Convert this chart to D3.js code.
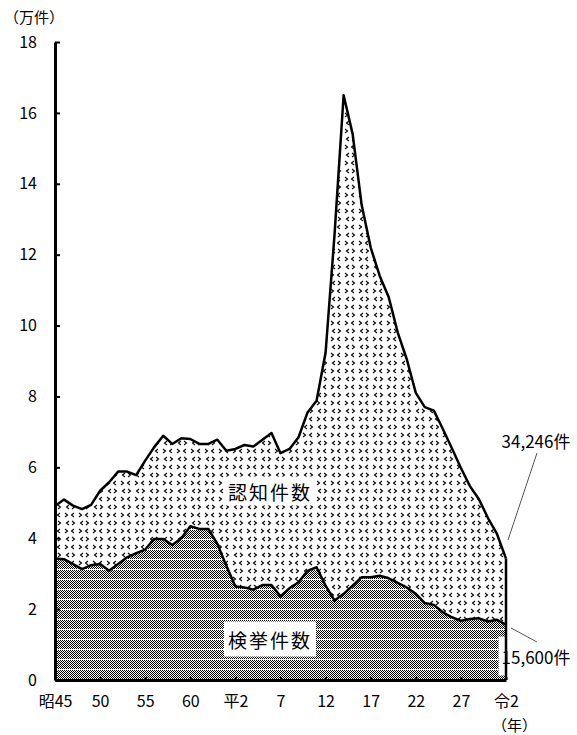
<!DOCTYPE html>
<html><head><meta charset="utf-8">
<script src="https://cdn.jsdelivr.net/npm/d3@7"></script>
<style>
html,body{margin:0;padding:0;background:#fff;}
text{font-family:"Noto Sans CJK JP","Noto Sans",sans-serif;fill:#000;}
</style></head>
<body>
<svg id="c" width="577" height="735"></svg>
<script>
// ---- data (万件) ----
const years = d3.range(1970, 2021);
const recognized = [4.91,5.09,4.92,4.82,4.94,5.34,5.58,5.88,5.88,5.78,
  6.19,6.57,6.89,6.66,6.82,6.80,6.66,6.66,6.78,6.47,
  6.52,6.63,6.59,6.78,6.97,6.40,6.52,6.85,7.55,7.88,
  9.24,12.6,16.5,15.4,13.4,12.2,11.4,10.8,9.8,9.05,
  8.1,7.7,7.6,7.08,6.54,5.98,5.47,5.1,4.57,4.12,3.4246];
const cleared = [3.43,3.41,3.27,3.13,3.24,3.27,3.08,3.27,3.46,3.58,
  3.68,3.98,3.98,3.81,4.0,4.34,4.26,4.26,3.84,3.22,
  2.64,2.61,2.55,2.68,2.68,2.36,2.59,2.76,3.08,3.18,
  2.66,2.24,2.43,2.66,2.90,2.90,2.94,2.87,2.74,2.61,
  2.43,2.17,2.12,1.91,1.77,1.67,1.72,1.74,1.65,1.70,1.56];
const xTickYears = [1970,1975,1980,1985,1990,1995,2000,2005,2010,2015,2020];
const xTickLabels = ["昭45","50","55","60","平2","7","12","17","22","27","令2"];
const yTicks = [0,2,4,6,8,10,12,14,16,18];
const seriesNames = ["認知件数","検挙件数"];
const endLabels = ["34,246件","15,600件"];

const svg = d3.select("#c");
const x = d3.scaleLinear().domain([1970,2020]).range([55,506]);
const y = d3.scaleLinear().domain([0,18]).range([680,42]);

// patterns
const defs = svg.append("defs");
const chk = defs.append("pattern").attr("id","chk").attr("patternUnits","userSpaceOnUse")
  .attr("width",2).attr("height",10);
chk.append("rect").attr("width",2).attr("height",10).attr("fill","#fff");
for(let r=0;r<9;r++){
  chk.append("rect").attr("x",r%2).attr("y",r).attr("width",1).attr("height",1)
    .attr("fill","#000").attr("shape-rendering","crispEdges");
}

const chev = defs.append("pattern").attr("id","chev").attr("patternUnits","userSpaceOnUse")
  .attr("width",14).attr("height",16);
chev.append("rect").attr("width",14).attr("height",16).attr("fill","#fff");
const chevPaths = [
  "M4,1 L1.5,3 L4,5", "M9,1 L11.5,3 L9,5",
  "M2,9 L4.5,11 L2,13", "M13,9 L10.5,11 L13,13"
];
chev.selectAll("path").data(chevPaths).enter().append("path")
  .attr("d",d=>d).attr("fill","none").attr("stroke","#000").attr("stroke-width",1.1);

const data = years.map((yr,i)=>({yr, r:recognized[i], c:cleared[i]}));

const areaR = d3.area().x(d=>x(d.yr)).y0(y(0)).y1(d=>y(d.r));
const areaC = d3.area().x(d=>x(d.yr)).y0(y(0)).y1(d=>y(d.c));
svg.append("path").datum(data).attr("d",areaR).attr("fill","url(#chev)");
svg.append("path").datum(data).attr("d",areaC).attr("fill","url(#chk)").attr("shape-rendering","crispEdges");

// label boxes
function boxLabel(txt, cx, cy, size, spacing, box){
  const g = svg.append("g");
  const t = g.append("text").attr("x",cx).attr("y",cy).attr("text-anchor","middle")
    .attr("dominant-baseline","central").style("font-size",size+"px")
    .style("letter-spacing",spacing+"px").text(txt);
  if(box){
    const b = t.node().getBBox();
    g.insert("rect","text").attr("x",b.x-box[0]).attr("y",b.y-box[1])
      .attr("width",b.width+2*box[0]).attr("height",b.height+2*box[1]).attr("fill","#fff");
  }
  return t;
}
boxLabel(seriesNames[0], 270, 491, 19, 2, [3,1]);
boxLabel(seriesNames[1], 270, 639, 19, 2, [4,4]);

const last = data[data.length-1];
boxLabel(endLabels[1], 536, 656, 17, 0, [3,7]);

// outlines
const lineR = d3.line().x(d=>x(d.yr)).y(d=>y(d.r));
const lineC = d3.line().x(d=>x(d.yr)).y(d=>y(d.c));
svg.append("path").datum(data).attr("d",lineR).attr("fill","none").attr("stroke","#000").attr("stroke-width",2.5).attr("stroke-linejoin","round");
svg.append("path").datum(data).attr("d",lineC).attr("fill","none").attr("stroke","#000").attr("stroke-width",2.5).attr("stroke-linejoin","round");
svg.append("line").attr("x1",x(2020)).attr("x2",x(2020)).attr("y1",y(last.r)).attr("y2",y(0))
  .attr("stroke","#000").attr("stroke-width",2.5);

// axes
const yAxis = d3.axisLeft(y).tickValues(yTicks).tickSizeInner(-5).tickSizeOuter(0).tickPadding(18);
const gy = svg.append("g").attr("transform",`translate(${x(1970)},0)`).call(yAxis);
gy.select(".domain").attr("stroke-width",3);
gy.selectAll(".tick line").attr("stroke-width",2);
gy.selectAll("text").style("font-size","16px");

const xAxis = d3.axisBottom(x).tickValues(xTickYears).tickFormat((d,i)=>xTickLabels[i])
  .tickSizeInner(-3).tickSizeOuter(0).tickPadding(16);
const gx = svg.append("g").attr("transform",`translate(0,${y(0)})`).call(xAxis);
gx.select(".domain").attr("stroke-width",3);
gx.selectAll(".tick line").attr("stroke-width",2);
gx.selectAll("text").style("font-size","16px");

// unit labels
svg.append("text").attr("x",4).attr("y",23).style("font-size","15px").text("（万件）");
svg.append("text").attr("x",492).attr("y",731).style("font-size","15px").text("（年）");

// end labels & leader lines
svg.append("text").attr("x",536).attr("y",440).attr("text-anchor","middle")
  .attr("dominant-baseline","central").style("font-size","17px").text(endLabels[0]);
svg.append("line").attr("x1",537).attr("y1",453).attr("x2",508).attr("y2",540)
  .attr("stroke","#555").attr("stroke-width",1);
svg.append("line").attr("x1",511).attr("y1",628).attr("x2",537).attr("y2",642)
  .attr("stroke","#555").attr("stroke-width",1);
</script>
</body></html>
